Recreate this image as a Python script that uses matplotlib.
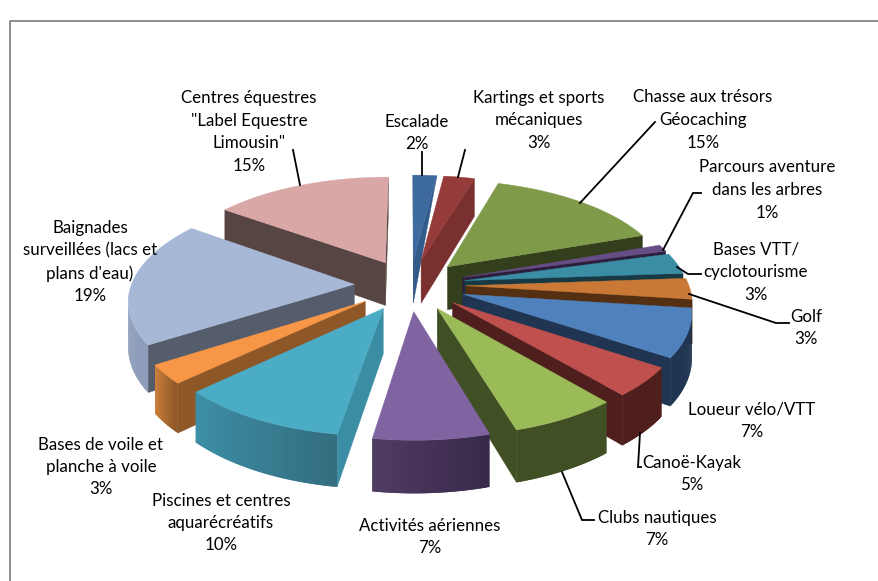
import numpy as np
import matplotlib
matplotlib.use("Agg")
import matplotlib.pyplot as plt
from matplotlib.colors import to_rgb

plt.rcParams["font.family"] = ["Lato", "DejaVu Sans"]

# Data
labels = [
    "Escalade", "Kartings et sports\nmécaniques", "Chasse aux trésors\nGéocaching",
    "Parcours aventure\ndans les arbres", "Bases VTT/\ncyclotourisme", "Golf",
    "Loueur vélo/VTT", "Canoë-Kayak", "Clubs nautiques", "Activités aériennes",
    "Piscines et centres\naquarécréatifs", "Bases de voile et\nplanche à voile",
    "Baignades\nsurveillées (lacs et\nplans d'eau)", "Centres équestres\n\"Label Equestre\nLimousin\"",
]
# printed percentages
percents = [2, 3, 15, 1, 3, 3, 7, 5, 7, 7, 10, 3, 19, 15]
# shares
values = [2.0, 2.6, 15.0, 1.05, 3.2, 3.2, 7.35, 4.45, 6.6, 7.05, 10.4, 2.9, 19.2, 15.0]

# Colours
top_colors = ["#3F6A9E", "#953C3A", "#7F9A48", "#664D86", "#3A8DA3", "#C97935", "#4F81BD",
              "#C0504D", "#9BBB59", "#8064A2", "#4BACC6", "#F79646", "#A7B8D6", "#D8A7A6"]
cut_colors = ["#335B89", "#7A302F", "#333E1C", "#2C1F3C", "#163944", "#542F12", "#1F3552",
              "#4F1F1E", "#404F24", "#3A2A4C", "#3B8DA3", "#8E5727", "#555C6C", "#574543"]
rim_start = ["#335B89", "#7A302F", "#333E1C", "#2C1F3C", "#163944", "#542F12", "#1F3552",
             "#4F1F1E", "#404F24", "#38294A", "#346E80", "#8E5727", "#8E9EBA", "#574543"]
rim_end = ["#335B89", "#7A302F", "#333E1C", "#2C1F3C", "#163944", "#542F12", "#1F3552",
           "#4F1F1E", "#404F24", "#503C62", "#3C8FA6", "#CB7F3C", "#93A3BE", "#574543"]

# Text positions in pixels (centre of each label)
label_pos = [(417, 133), (539, 120), (703, 120), (767, 190), (756, 272), (806, 328), (752, 421),
             (692, 474), (657, 529), (430, 537), (221, 523), (101, 467), (90, 262), (249, 132)]
leaders = {
    0: [(422, 152), (422, 175)],
    1: [(465, 150), (458, 177)],
    2: [(580, 203), (655, 122)],
    3: [(663, 250), (693, 193), (701, 193)],
    4: [(677, 267), (688, 274), (701, 274)],
    5: [(689, 294), (776, 323), (789, 323)],
    7: [(640, 433), (638, 467), (641, 467)],
    8: [(562, 472), (582, 520), (594, 520)],
    13: [(293, 150), (300, 185)],
}

# Projection of the pie plane
CX, CY = 410, 285
A, B = 223, 103
PERSP = 7.3
DEPTH = 44
EXPLODE = 0.25
START = 0.0


def project(x, y, drop=False):
    f = PERSP / (PERSP + y)
    sx = CX + A * x * f
    sy = CY - B * y * f
    if drop:
        sy = sy + DEPTH * f
    return sx, sy


fig = plt.figure(figsize=(8.79, 5.81), dpi=100)
ax = fig.add_axes([0, 0, 1, 1])
ax.set_xlim(0, 879)
ax.set_ylim(581, 0)
ax.axis("off")

# Frame of the chart
ax.plot([10.5, 10.5, 879], [581, 21, 21], color="#868686", lw=1.3, zorder=1)

fracs = np.array(values) / sum(values)
edges = START + 360 * np.concatenate([[0], np.cumsum(fracs)])
mids = (edges[:-1] + edges[1:]) / 2

# Paint from the back of the pie to the front
order = np.argsort(-np.cos(np.radians(mids)))
z = 2
for i in order:
    mid = np.radians(mids[i])
    ox, oy = EXPLODE * np.sin(mid), EXPLODE * np.cos(mid)
    th = np.radians(np.linspace(edges[i], edges[i + 1], max(int(values[i] * 6), 8)))
    xs = ox + np.sin(th)
    ys = oy + np.cos(th)
    tx, ty = project(xs, ys)
    bx, by = project(xs, ys, True)
    ax_, ay_ = project(ox, oy)
    abx, aby = project(ox, oy, True)

    # start cut
    if tx[0] < ax_:
        ax.fill([ax_, tx[0], bx[0], abx], [ay_, ty[0], by[0], aby], color=cut_colors[i], lw=0.3, zorder=z)
    # end cut, the first slice has no visible outer edge
    if ax_ < tx[-1]:
        end_y = ty[-1] if i == 0 else by[-1]
        ax.fill([ax_, tx[-1], bx[-1], abx], [ay_, ty[-1], end_y, aby], color=cut_colors[i], lw=0.3, zorder=z)
    # rim with a shade from one end to the other, strips overlap to hide seams
    c0, c1 = np.array(to_rgb(rim_start[i])), np.array(to_rgb(rim_end[i]))
    n = len(th)
    for k in range(n - 1):
        if tx[k + 1] < tx[k]:
            t = k / max(n - 2, 1)
            j = min(k + 2, n - 1)
            ax.fill([tx[k], tx[j], bx[j], bx[k]], [ty[k], ty[j], by[j], by[k]],
                    color=c0 + (c1 - c0) * t, lw=0, zorder=z)
    # top face
    ax.fill(np.r_[ax_, tx], np.r_[ay_, ty], color=top_colors[i], lw=0.3, zorder=z + 0.5)
    z += 1

for i, pts in leaders.items():
    p = np.array(pts)
    ax.plot(p[:, 0], p[:, 1], color="black", lw=1.3, zorder=50, solid_joinstyle="miter")

for lab, v, (x, y) in zip(labels, percents, label_pos):
    ax.text(x, y, f"{lab}\n{v}%", ha="center", va="center", fontsize=12.2, linespacing=1.5,
            color="black", zorder=60)

fig.savefig("out.png", dpi=100)
